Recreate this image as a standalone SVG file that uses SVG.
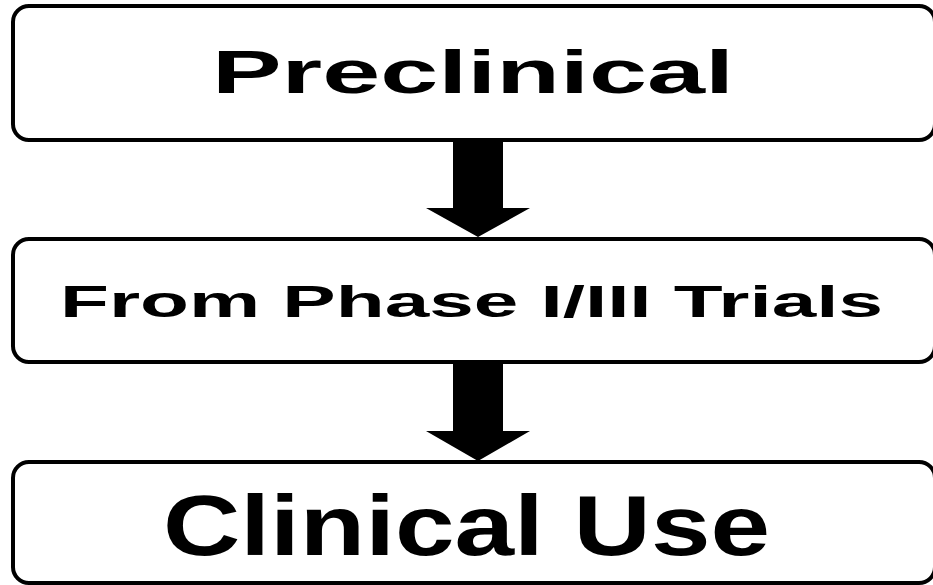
<svg xmlns="http://www.w3.org/2000/svg" width="933" height="585" viewBox="0 0 933 585">
<style>
.box{fill:#fff;stroke:#000;stroke-width:4}
.lbl{font-family:"Liberation Sans",Arial,sans-serif;font-weight:bold;fill:#000}
.arr{fill:#000}
</style>
<rect width="933" height="585" fill="#fff"/>
<g id="preclinical">
<rect class="box" x="13" y="6" width="922" height="134" rx="16"/>
<text class="lbl" x="212" y="93" font-size="62" textLength="522" lengthAdjust="spacingAndGlyphs">Preclinical</text>
</g>
<g id="trials">
<rect class="box" x="13" y="239" width="922" height="123" rx="16"/>
<text class="lbl" x="60" y="317" font-size="44" textLength="823" lengthAdjust="spacingAndGlyphs">From Phase I/III Trials</text>
</g>
<g id="clinical-use">
<rect class="box" x="13" y="462" width="922" height="121" rx="16"/>
<text class="lbl" x="163" y="555" font-size="85" textLength="607" lengthAdjust="spacingAndGlyphs">Clinical Use</text>
</g>
<g id="connectors">
<polygon class="arr" points="453,142 503,142 503,208 530,208 478,237 426,208 453,208"/>
<polygon class="arr" points="453,364 503,364 503,431 530,431 478,461 426,431 453,431"/>
</g>
</svg>
